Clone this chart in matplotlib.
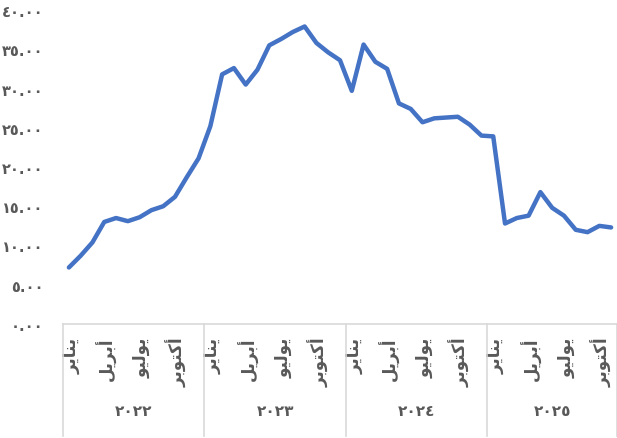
import matplotlib
matplotlib.use("Agg")
import matplotlib.pyplot as plt
import matplotlib.transforms as mtransforms

# monthly values, Jan 2022 .. Nov 2025
values = [7.2, 8.7, 10.4, 13.0, 13.5, 13.1, 13.6, 14.5, 15.0, 16.2, 18.7, 21.1,
          25.2, 31.8, 32.6, 30.5, 32.4, 35.5, 36.3, 37.2, 37.9, 35.8, 34.6, 33.6,
          29.7, 35.6, 33.4, 32.5, 28.1, 27.4, 25.7, 26.2, 26.3, 26.4, 25.4, 24.0,
          23.9, 12.8, 13.5, 13.8, 16.8, 14.8, 13.8, 12.0, 11.7, 12.5, 12.3]
years = ["2022", "2023", "2024", "2025"]
months_per_year = [12, 12, 12, 11]
month_names = ["يناير", "أبريل", "يوليو", "أكتوبر"]
month_steps = [0, 3, 6, 9]
yticks = [0, 5, 10, 15, 20, 25, 30, 35, 40]

# arabic presentation forms: isolated, final, initial, medial
FORMS = {
    "ا": ("\ufe8d", "\ufe8e", None, None),
    "أ": ("\ufe83", "\ufe84", None, None),
    "ب": ("\ufe8f", "\ufe90", "\ufe91", "\ufe92"),
    "ت": ("\ufe95", "\ufe96", "\ufe97", "\ufe98"),
    "ر": ("\ufead", "\ufeae", None, None),
    "ك": ("\ufed9", "\ufeda", "\ufedb", "\ufedc"),
    "ل": ("\ufedd", "\ufede", "\ufedf", "\ufee0"),
    "ن": ("\ufee5", "\ufee6", "\ufee7", "\ufee8"),
    "و": ("\ufeed", "\ufeee", None, None),
    "ي": ("\ufef1", "\ufef2", "\ufef3", "\ufef4"),
}


def shape(word):
    out = []
    for i, ch in enumerate(word):
        iso, fin, ini, med = FORMS[ch]
        prev_joins = i > 0 and FORMS[word[i - 1]][2] is not None
        can_next = ini is not None and i < len(word) - 1
        if prev_joins and can_next:
            out.append(med)
        elif prev_joins:
            out.append(fin)
        elif can_next:
            out.append(ini)
        else:
            out.append(iso)
    return "".join(reversed(out))


AR_DIGITS = str.maketrans("0123456789", "٠١٢٣٤٥٦٧٨٩")


def ar(s):
    return s.translate(AR_DIGITS)


plt.rcParams["font.family"] = ["DejaVu Sans"]
grey = "#595959"
sep = "#d9d9d9"

fig = plt.figure(figsize=(6.17, 4.39), dpi=100)
ax = fig.add_axes([63 / 617, 1 - 325 / 439, 554 / 617, 314 / 439])

x = list(range(len(values)))
ax.plot(x, values, color="#4472C4", lw=3.2, solid_capstyle="round", solid_joinstyle="round")

n = len(values)
ax.set_xlim(-0.5, n - 0.5)
ax.set_ylim(0, 40)
ax.set_yticks(yticks)
ax.set_yticklabels([ar(f"{v:.2f}") for v in yticks], color=grey, fontsize=10.5,
                   fontweight="bold")

ticks, labels = [], []
start = 0
for cnt in months_per_year:
    for s, name in zip(month_steps, month_names):
        if s < cnt:
            ticks.append(start + s + 0.2)
            labels.append(shape(name))
    start += cnt
ax.set_xticks(ticks)
ax.set_xticklabels(labels, rotation=90, color=grey, fontsize=12, fontweight="bold",
                   va="top", ha="center")
ax.tick_params(axis="both", length=0)
ax.tick_params(axis="x", pad=9)
ax.tick_params(axis="y", pad=14)

for sp in ["top", "right", "left"]:
    ax.spines[sp].set_visible(False)
ax.spines["bottom"].set_color(sep)
ax.spines["bottom"].set_linewidth(1.2)

trans = mtransforms.blended_transform_factory(ax.transData, ax.transAxes)
depth = -(437 - 325) / 314
edges = [-0.5]
for cnt in months_per_year:
    edges.append(edges[-1] + cnt)
for e in edges:
    ax.plot([e, e], [0, depth], color=sep, lw=1.2, transform=trans, clip_on=False)
for i, yr in enumerate(years):
    mid = (edges[i] + edges[i + 1]) / 2
    ax.text(mid, -(412 - 325) / 314, ar(yr), transform=trans, ha="center", va="center",
            color=grey, fontsize=11, fontweight="bold")

fig.savefig("out.png", dpi=100)
